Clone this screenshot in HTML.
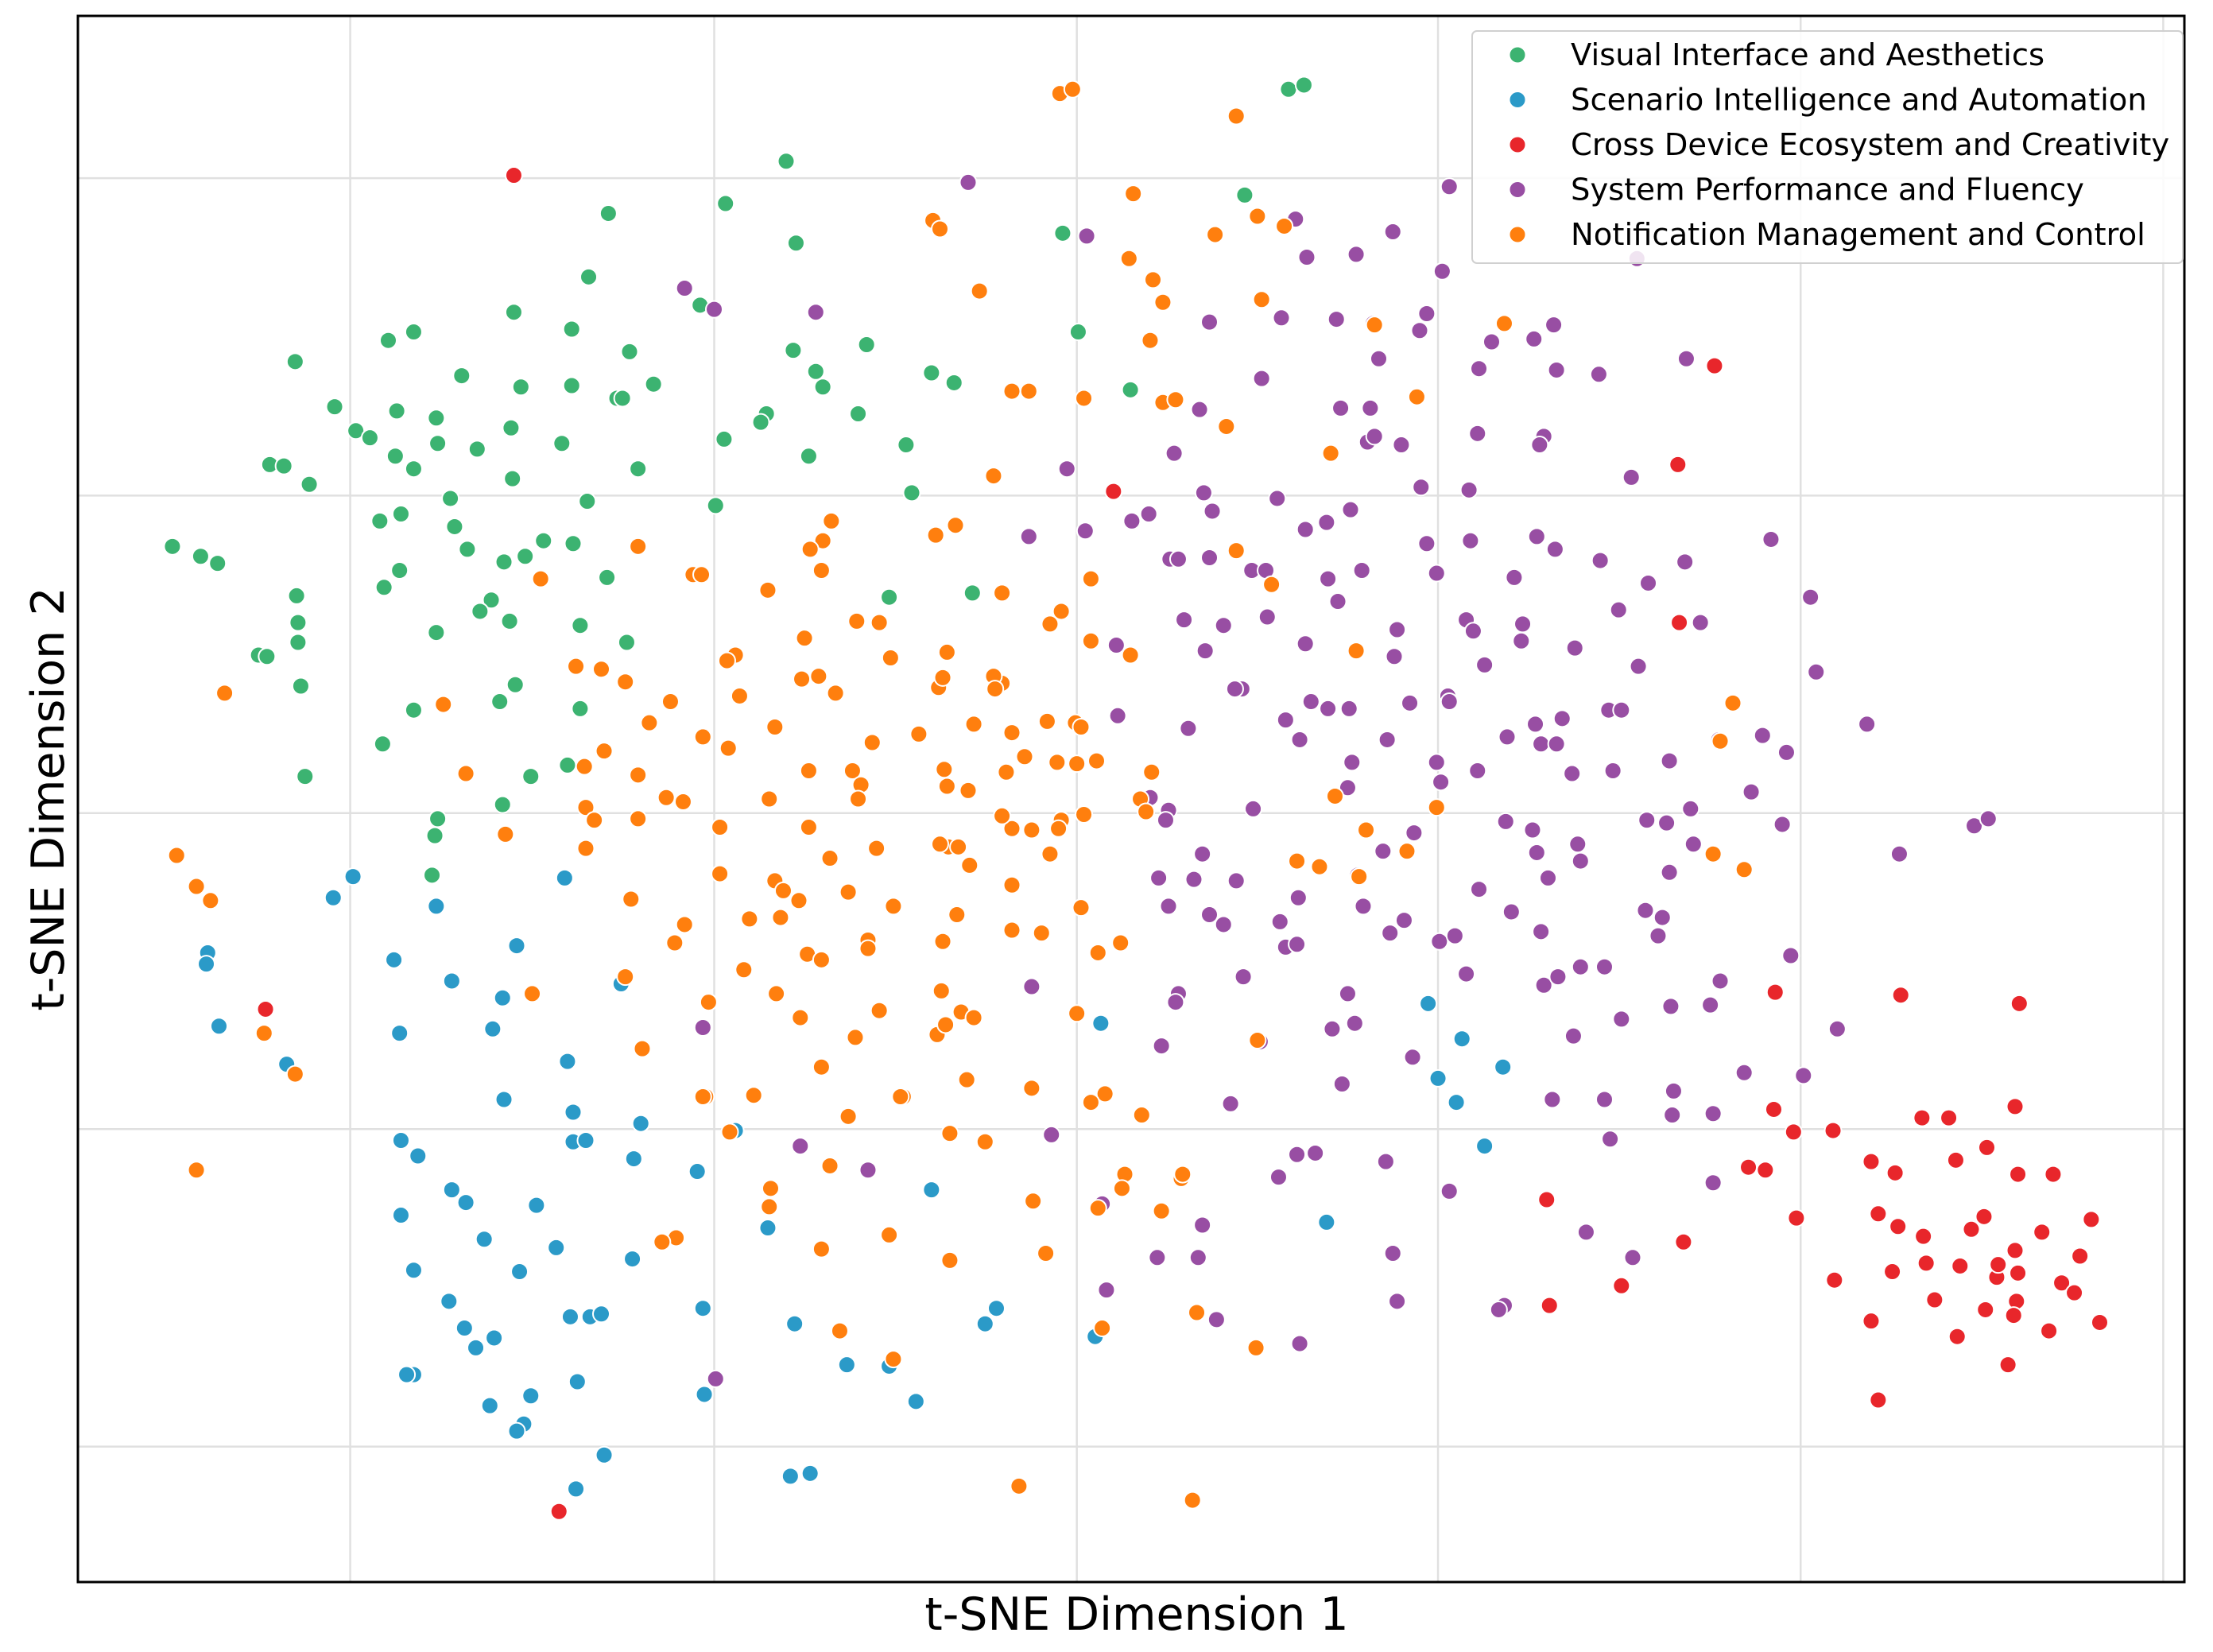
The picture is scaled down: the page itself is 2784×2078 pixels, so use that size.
<!DOCTYPE html>
<html>
<head>
<meta charset="utf-8">
<style>
html,body{margin:0;padding:0;background:#fff;}
svg{display:block;font-family:"DejaVu Sans","Liberation Sans",sans-serif;}
</style>
</head>
<body>
<svg id="chart" width="2784" height="2078" viewBox="0 0 2784 2078" xmlns="http://www.w3.org/2000/svg">
<rect x="0" y="0" width="2784" height="2078" fill="#fff"/>
<g id="grid"></g>
<g id="points"></g>
<rect x="98" y="20" width="2650" height="1970" fill="none" stroke="#000" stroke-width="3"/>
<text x="1430" y="2050" font-size="57" text-anchor="middle">t-SNE Dimension 1</text>
<text x="0" y="0" font-size="57" text-anchor="middle" transform="translate(80,1005) rotate(-90)">t-SNE Dimension 2</text>
<g id="legend"></g>
</svg>
<script>
const categories = ["Visual Interface and Aesthetics","Scenario Intelligence and Automation","Cross Device Ecosystem and Creativity","System Performance and Fluency","Notification Management and Control"];
const colors = ["#3cb371","#2b9ac8","#e8262b","#984ea3","#ff7f0e"];
const xGridTicks = [248,506,763,1019,1276,1533];
const yGridTicks = [126,351,576,800,1025];
const seriesVisual = [[122,387],[142,394],[154,399],[209,256],[237,288],[252,305],[262,310],[275,241],[293,235],[281,291],[309,296],[327,266],[369,274],[405,273],[364,221],[405,233],[417,196],[431,151],[446,249],[463,272],[437,282],[441,282],[398,314],[362,303],[363,339],[338,318],[310,314],[293,332],[280,323],[191,329],[201,330],[219,343],[269,369],[284,364],[319,353],[322,373],[331,389],[357,398],[372,394],[385,383],[406,385],[416,355],[452,332],[430,409],[411,443],[444,455],[361,440],[348,425],[340,433],[309,448],[283,404],[272,416],[210,422],[211,441],[211,455],[183,464],[189,465],[213,486],[216,550],[271,527],[293,503],[354,497],[365,485],[411,502],[376,550],[356,570],[402,542],[310,580],[308,592],[306,620],[514,144],[557,114],[564,172],[614,244],[578,263],[583,274],[562,248],[543,293],[539,299],[573,323],[608,293],[642,315],[646,349],[660,264],[676,271],[513,311],[507,358],[496,216],[630,423],[689,420],[753,165],[764,235],[801,276],[882,138],[913,63],[924,60]];
const seriesScenario = [[236,636],[250,621],[147,675],[146,683],[155,727],[203,754],[279,680],[309,642],[320,695],[366,670],[400,622],[356,707],[349,729],[283,732],[440,697],[402,752],[357,779],[406,788],[406,809],[415,808],[454,796],[449,821],[494,830],[521,801],[284,808],[296,819],[320,843],[330,852],[343,878],[284,861],[380,854],[368,901],[394,884],[293,900],[318,922],[329,941],[337,955],[350,948],[404,933],[418,933],[426,931],[448,892],[498,927],[499,988],[544,870],[563,938],[600,967],[630,968],[649,993],[660,843],[698,938],[706,927],[776,947],[780,725],[1012,711],[1036,736],[1019,764],[1032,781],[1065,756],[1052,812],[940,866],[293,974],[288,974],[347,996],[376,989],[371,1009],[366,1014],[428,1031],[408,1055],[409,979],[560,1046],[574,1044]];
const seriesCross = [[364,124],[188,715],[396,1071],[789,348],[1215,259],[1189,329],[1190,441],[1258,703],[1347,705],[1431,711],[1096,850],[1098,925],[1149,911],[1193,880],[1257,786],[1271,802],[1299,801],[1326,823],[1343,831],[1362,792],[1381,792],[1386,822],[1408,813],[1428,784],[1455,832],[1482,864],[1239,827],[1251,829],[1273,863],[1300,907],[1331,860],[1345,869],[1363,876],[1365,895],[1341,901],[1389,897],[1406,862],[1397,871],[1428,886],[1430,832],[1447,873],[1474,890],[1461,909],[1470,916],[1415,905],[1416,896],[1430,902],[1429,922],[1407,928],[1371,921],[1387,947],[1427,932],[1452,943],[1488,937],[1423,967],[1326,936],[1331,992]];
const seriesSystem = [[686,129],[485,204],[506,219],[578,221],[770,167],[918,155],[926,182],[961,180],[987,164],[1027,132],[1022,192],[1011,222],[1006,234],[973,229],[977,254],[947,226],[908,225],[857,228],[894,268],[850,290],[832,321],[756,332],[769,376],[802,369],[814,364],[829,396],[835,396],[857,395],[853,349],[859,362],[887,404],[897,404],[905,353],[925,375],[940,370],[957,361],[950,289],[971,289],[969,313],[974,309],[993,315],[1007,345],[1018,406],[1011,385],[1041,347],[1047,307],[1048,261],[1057,242],[1087,240],[1101,230],[1103,262],[1133,265],[1160,183],[1195,254],[1156,338],[1094,309],[1091,315],[1089,380],[1102,389],[1134,397],[1147,432],[1168,413],[1194,398],[1255,382],[1283,423],[1287,476],[1205,441],[1161,472],[1116,459],[1079,442],[1073,409],[1042,383],[1039,439],[1044,447],[1078,454],[1052,471],[1026,493],[1027,497],[999,498],[990,446],[988,465],[965,404],[941,410],[948,426],[925,456],[898,437],[880,488],[867,443],[854,461],[839,439],[791,457],[729,380],[875,488],[911,510],[929,497],[941,502],[956,502],[983,524],[958,540],[955,558],[921,524],[888,573],[842,516],[828,574],[815,565],[792,507],[826,581],[852,605],[821,622],[828,642],[846,623],[876,624],[857,648],[867,655],[907,653],[920,636],[911,671],[919,669],[962,620],[966,642],[985,661],[995,652],[980,603],[1002,590],[1021,554],[1018,540],[1047,546],[1068,522],[1092,527],[1103,527],[1088,513],[1107,509],[1140,503],[1149,503],[1114,548],[1143,546],[1167,581],[1183,539],[1218,524],[1249,521],[1266,533],[1241,561],[1198,573],[1181,583],[1200,598],[1183,618],[1166,645],[1178,650],[1118,598],[1120,610],[1086,588],[1067,582],[1089,604],[1097,622],[1071,646],[1092,660],[1048,630],[1020,667],[1031,663],[1039,690],[1094,698],[1104,692],[1120,685],[1137,685],[1175,663],[1219,695],[1212,712],[1184,713],[1149,722],[1115,734],[1137,779],[1100,779],[1186,773],[1185,790],[1214,789],[1236,760],[1278,762],[1302,729],[1269,677],[1346,605],[1263,584],[1399,585],[1409,580],[1323,513],[1214,838],[1141,807],[1124,873],[1157,891],[1027,844],[1066,925],[1062,928],[990,922],[987,888],[921,952],[906,834],[919,818],[932,817],[982,823],[951,768],[960,725],[944,729],[893,738],[881,692],[835,704],[833,710],[823,741],[872,782],[852,868],[849,891],[820,891],[862,935],[745,804],[731,699],[615,829],[567,812],[498,728],[507,977],[784,914],[781,853],[955,704],[1001,749]];
const seriesNotification = [[751,66],[760,63],[876,82],[661,156],[666,162],[803,137],[800,183],[817,198],[824,214],[815,241],[861,166],[891,153],[910,160],[894,212],[869,302],[943,321],[974,230],[1066,229],[1004,281],[824,285],[833,283],[768,282],[717,277],[729,277],[694,206],[704,337],[663,379],[677,372],[710,420],[744,442],[752,433],[773,410],[773,454],[801,464],[762,512],[766,515],[749,540],[742,511],[717,519],[710,484],[704,479],[705,488],[690,513],[665,487],[668,480],[671,462],[631,466],[607,440],[623,441],[589,369],[583,383],[574,389],[582,404],[544,418],[592,491],[568,481],[580,479],[570,452],[549,515],[521,464],[515,468],[524,493],[491,407],[497,407],[452,387],[383,410],[408,472],[426,474],[443,483],[475,497],[460,512],[498,522],[516,530],[428,532],[414,543],[452,549],[472,565],[484,568],[415,572],[421,581],[452,580],[415,601],[358,591],[330,548],[314,499],[159,491],[125,606],[139,628],[149,638],[187,732],[209,761],[139,829],[377,704],[443,692],[447,637],[485,655],[478,668],[455,743],[502,710],[500,777],[517,802],[534,776],[527,687],[553,650],[549,624],[555,631],[566,638],[573,586],[588,608],[572,676],[582,680],[550,704],[567,721],[582,756],[601,791],[606,735],[615,666],[615,672],[623,716],[633,642],[640,777],[664,733],[670,726],[667,702],[681,717],[690,721],[668,667],[678,648],[687,613],[672,600],[666,598],[679,600],[651,520],[618,526],[604,546],[610,556],[608,566],[621,601],[601,632],[573,546],[545,566],[510,586],[510,619],[531,651],[669,545],[671,557],[686,560],[726,536],[713,547],[717,587],[710,578],[731,588],[752,581],[744,605],[750,587],[768,577],[763,541],[777,539],[816,547],[808,566],[812,575],[738,661],[717,659],[717,627],[778,675],[794,668],[766,643],[763,718],[783,775],[773,781],[809,790],[797,832],[795,842],[823,858],[837,835],[838,832],[778,856],[781,941],[848,930],[890,955],[845,1063],[722,1053],[732,851],[741,888],[731,771],[673,803],[673,893],[698,809],[685,765],[638,777],[630,875],[595,943],[582,885],[633,963],[588,826],[545,855],[546,842],[498,777],[479,877],[469,880],[891,737],[946,564],[935,614],[919,610],[968,588],[963,621],[997,603],[1018,572],[961,461],[1228,498],[1219,525],[1214,605],[1236,616],[876,390],[901,414]];
const allSeries = [seriesVisual, seriesScenario, seriesCross, seriesSystem, seriesNotification];

const NS = "http://www.w3.org/2000/svg";
const xMin = 55, xMax = 1548, yMin = 11, yMax = 1121;
const pL = 98, pT = 20, pW = 2650, pH = 1970;
function xScale(v){ return pL + (v - xMin) / (xMax - xMin) * pW; }
function yScale(v){ return pT + (v - yMin) / (yMax - yMin) * pH; }

const grid = document.getElementById('grid');
xGridTicks.forEach(function(t){
  const l = document.createElementNS(NS,'line');
  l.setAttribute('x1', xScale(t)); l.setAttribute('x2', xScale(t));
  l.setAttribute('y1', pT); l.setAttribute('y2', pT + pH);
  l.setAttribute('stroke', '#e0e0e0'); l.setAttribute('stroke-width', '2.5');
  
  
  grid.appendChild(l);
});
yGridTicks.forEach(function(t){
  const l = document.createElementNS(NS,'line');
  l.setAttribute('y1', yScale(t)); l.setAttribute('y2', yScale(t));
  l.setAttribute('x1', pL); l.setAttribute('x2', pL + pW);
  l.setAttribute('stroke', '#e0e0e0'); l.setAttribute('stroke-width', '2.5');
  
  
  grid.appendChild(l);
});

const pts = document.getElementById('points');
allSeries.forEach(function(series, si){
  series.forEach(function(p){
    const c = document.createElementNS(NS,'circle');
    c.setAttribute('cx', xScale(p[0]));
    c.setAttribute('cy', yScale(p[1]));
    c.setAttribute('r', '10.5');
    c.setAttribute('fill', colors[si]);
    c.setAttribute('stroke', '#fff');
    c.setAttribute('stroke-width', '2');
    
    
    pts.appendChild(c);
  });
});

const lg = document.getElementById('legend');
const box = document.createElementNS(NS,'rect');
box.setAttribute('x', 1852); box.setAttribute('y', 39);
box.setAttribute('width', 894); box.setAttribute('height', 292);
box.setAttribute('rx', 6);
box.setAttribute('fill', '#fff'); box.setAttribute('fill-opacity', '0.85');
box.setAttribute('stroke', '#d0d0d0'); box.setAttribute('stroke-width', '2');


lg.appendChild(box);
categories.forEach(function(name, i){
  const y = 69 + i * 56.5;
  const c = document.createElementNS(NS,'circle');
  c.setAttribute('cx', 1909); c.setAttribute('cy', y);
  c.setAttribute('r', '10.5'); c.setAttribute('fill', colors[i]);
  c.setAttribute('stroke', '#fff'); c.setAttribute('stroke-width', '2');
  
  
  lg.appendChild(c);
  const t = document.createElementNS(NS,'text');
  t.setAttribute('x', 1976); t.setAttribute('y', y + 13);
  t.setAttribute('font-size', '38.5');
  t.textContent = name;
  
  
  lg.appendChild(t);
});
</script>
</body>
</html>
